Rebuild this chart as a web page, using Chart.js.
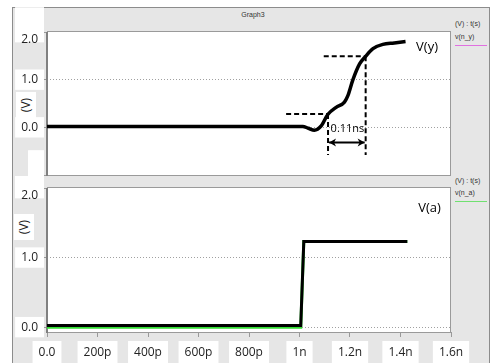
<!DOCTYPE html>
<html>
<head>
<meta charset="utf-8">
<script src="https://cdn.jsdelivr.net/npm/chart.js@4.4.1/dist/chart.umd.min.js"></script>
<style>
  body { margin: 0; width: 494px; height: 363px; overflow: hidden; position: relative; background: #fff; font-family: "Open Sans", sans-serif; }
  #panel { position: absolute; left: 12px; top: 7px; width: 478px; height: 362px; background: #e6e6e6; border: 1px solid #8c8c8c; box-sizing: border-box; }
  canvas { position: absolute; left: 0; }
  #top { top: 0; }
  #bottom { top: 176px; }
  .tiny { position: absolute; font-family: "Liberation Sans", sans-serif; font-size: 7px; color: #333; white-space: nowrap; }
  .swatch { position: absolute; left: 455px; width: 32px; height: 1px; }
  .ylab { position: absolute; z-index: 2; background: #fff; font-size: 12px; color: #222; text-align: center; line-height: 20px; width: 26px; height: 20px; transform: rotate(-90deg); }
</style>
</head>
<body>
<div id="panel"></div>
<div class="tiny" style="left:0;width:506px;text-align:center;top:11px">Graph3</div>
<div class="tiny" style="left:455px;top:20px">(V) : t(s)</div>
<div class="tiny" style="left:455px;top:33px">v(n_y)</div>
<div class="swatch" style="top:45px;background:#e070e0"></div>
<div class="tiny" style="left:455px;top:177px">(V) : t(s)</div>
<div class="tiny" style="left:455px;top:189px">v(n_a)</div>
<div class="swatch" style="top:201px;background:#70e070"></div>
<canvas id="top" width="494" height="176"></canvas>
<canvas id="bottom" width="494" height="187"></canvas>
<div class="ylab" style="left:13px;top:95px">(V)</div>
<div class="ylab" style="left:11px;top:217px">(V)</div>
<script>
// temps en ns
const xTicks = [0, 0.2, 0.4, 0.6, 0.8, 1.0, 1.2, 1.4, 1.6];
const xLabels = ['0.0', '200p', '400p', '600p', '800p', '1n', '1.2n', '1.4n', '1.6n'];

// V(y) - sortie
const tY = [0, 1.013, 1.035, 1.059, 1.086, 1.112, 1.145, 1.178, 1.192, 1.211, 1.238, 1.262, 1.291, 1.330, 1.375, 1.420];
const vY = [0.02, 0.02, -0.02, -0.06, 0.03, 0.27, 0.42, 0.53, 0.67, 0.99, 1.33, 1.49, 1.65, 1.74, 1.77, 1.80];

// V(a) - entree (trace verte + trace noire)
const tA = [0, 1.005, 1.017, 1.427];
const vA = [0.025, 0.025, 1.23, 1.23];
const vAgreen = [0, 0, 1.23, 1.23];

// mesure du retard
const low = 0.28, high = 1.49, tLow = 1.113, tHigh = 1.262, dashBottom = -0.58, arrowY = -0.32;
const delayText = '0.11ns';

const yTicksTop = [-1, 0, 1, 2];
const yLabelsTop = ['-', '0.0', '1.0', '2.0'];
const yTicksBottom = [0, 1, 2];
const yLabelsBottom = ['0.0', '1.0', '2.0'];

const pts = (xs, ys) => xs.map((x, i) => ({ x: x, y: ys[i] }));
const tickFont = { family: 'Open Sans', size: 12 };

// le libelle du haut descend, celui du bas monte
function wrapLabel(lbl, v, max, min) {
  if (v === max) return ['', lbl];
  if (v === min) return [lbl, ''];
  return lbl;
}

function fitY(s) {
  s.width = 47;
  s.paddingTop = 0;
  s.paddingBottom = 0;
}

const frame = {
  id: 'frame',
  beforeDraw(chart) {
    const a = chart.chartArea, c = chart.ctx;
    c.save();
    c.fillStyle = '#fff';
    c.fillRect(a.left, a.top, a.width, a.height);
    c.restore();
  },
  beforeDatasetsDraw(chart) {
    const a = chart.chartArea, c = chart.ctx;
    c.save();
    c.strokeStyle = '#9a9a9a';
    c.lineWidth = 1;
    c.strokeRect(a.left + 0.5, a.top - 0.5, a.width - 1, a.height + 1);
    c.strokeStyle = '#808080';
    c.lineWidth = 2;
    c.beginPath();
    c.moveTo(a.left, a.top);
    c.lineTo(a.left, a.bottom + 1);
    c.stroke();
    c.restore();
  },
  afterDatasetsDraw(chart, args, opts) {
    const c = chart.ctx, xs = chart.scales.x, ys = chart.scales.y;
    c.save();
    c.fillStyle = '#000';
    (opts.notes || []).forEach(n => {
      c.font = n.size + 'px "Open Sans"';
      c.textAlign = 'center';
      c.textBaseline = 'middle';
      c.fillText(n.text, xs.getPixelForValue(n.x), ys.getPixelForValue(n.y));
    });
    if (opts.arrow != null) {
      const pts = chart.getDatasetMeta(opts.arrow).data;
      const p1 = pts[0], p2 = pts[pts.length - 1];
      [[p1, 1], [p2, -1]].forEach(([p, d]) => {
        c.beginPath();
        c.moveTo(p.x, p.y);
        c.lineTo(p.x + d * 7, p.y - 4);
        c.lineTo(p.x + d * 5, p.y);
        c.lineTo(p.x + d * 7, p.y + 4);
        c.closePath();
        c.fill();
      });
    }
    c.restore();
  }
};

const dashed = (data) => ({ data: data, borderColor: '#000', borderWidth: 2, borderDash: [5, 3], pointRadius: 0, order: 2 });

new Chart(document.getElementById('top'), {
  type: 'line',
  data: {
    datasets: [
      { data: pts(tY, vY), borderColor: '#000', borderWidth: 3.5, pointRadius: 0, cubicInterpolationMode: 'monotone', order: 0 },
      dashed([{ x: 0.947, y: low }, { x: tLow, y: low }]),
      dashed([{ x: 1.096, y: high }, { x: tHigh, y: high }]),
      dashed([{ x: tLow, y: low }, { x: tLow, y: dashBottom }]),
      dashed([{ x: tHigh, y: high }, { x: tHigh, y: dashBottom }]),
      { data: [{ x: tLow + 0.004, y: arrowY }, { x: tHigh - 0.004, y: arrowY }], borderColor: '#000', borderWidth: 2, pointRadius: 0, order: 1 }
    ]
  },
  options: {
    responsive: false,
    animation: false,
    layout: { padding: { left: 0, right: 43, top: 32, bottom: 1 } },
    plugins: {
      legend: { display: false },
      tooltip: { enabled: false },
      frame: {
        notes: [
          { text: 'V(y)', x: 1.505, y: 1.67, size: 13 },
          { text: delayText, x: 1.19, y: -0.03, size: 11 }
        ],
        arrow: 5
      }
    },
    scales: {
      x: { type: 'linear', min: 0, max: 1.6, display: false },
      y: {
        min: -1, max: 2,
        afterFit: fitY,
        afterBuildTicks: s => { s.ticks = yTicksTop.map(v => ({ value: v })); },
        border: { display: false, dash: [1, 2] },
        grid: {
          color: ctx => (ctx.tick && (ctx.tick.value === 0 || ctx.tick.value === 1)) ? '#a0a0a0' : 'transparent',
          tickColor: '#999', tickLength: 4
        },
        ticks: {
          font: tickFont, color: '#222', padding: 5,
          callback: (v) => wrapLabel(yLabelsTop[yTicksTop.indexOf(v)], v, 2, -1),
          showLabelBackdrop: true, backdropColor: '#fff', backdropPadding: { x: 6, y: 3 }
        }
      }
    }
  },
  plugins: [frame]
});

new Chart(document.getElementById('bottom'), {
  type: 'line',
  data: {
    datasets: [
      { data: pts(tA, vA), borderColor: '#000', borderWidth: 3, pointRadius: 0, order: 0 },
      { data: pts(tA, vAgreen), borderColor: '#33dd33', borderWidth: 3, pointRadius: 0, order: 1 }
    ]
  },
  options: {
    responsive: false,
    animation: false,
    layout: { padding: { left: 0, right: 43, top: 12, bottom: 0 } },
    plugins: {
      legend: { display: false },
      tooltip: { enabled: false },
      frame: { notes: [{ text: 'V(a)', x: 1.515, y: 1.71, size: 13 }] }
    },
    scales: {
      x: {
        type: 'linear', min: 0, max: 1.6,
        afterFit: s => { s.height = 31; },
        afterBuildTicks: s => { s.ticks = xTicks.map(v => ({ value: v })); },
        border: { display: false },
        grid: { drawOnChartArea: false, tickColor: '#999', tickLength: 5 },
        ticks: {
          font: tickFont, color: '#222', padding: 8, maxRotation: 0, autoSkip: false,
          callback: (v) => xLabels[xTicks.indexOf(v)],
          showLabelBackdrop: true, backdropColor: '#fff', backdropPadding: { x: 6, y: 4 }
        }
      },
      y: {
        min: -0.07, max: 2,
        afterFit: fitY,
        afterBuildTicks: s => { s.ticks = yTicksBottom.map(v => ({ value: v })); },
        border: { display: false, dash: [1, 2] },
        grid: {
          color: ctx => (ctx.tick && (ctx.tick.value === 0 || ctx.tick.value === 1)) ? '#a0a0a0' : 'transparent',
          tickColor: '#999', tickLength: 4
        },
        ticks: {
          font: tickFont, color: '#222', padding: 5,
          callback: (v) => wrapLabel(yLabelsBottom[yTicksBottom.indexOf(v)], v, 2, -1),
          showLabelBackdrop: true, backdropColor: '#fff', backdropPadding: { x: 6, y: 3 }
        }
      }
    }
  },
  plugins: [frame]
});
</script>
</body>
</html>
